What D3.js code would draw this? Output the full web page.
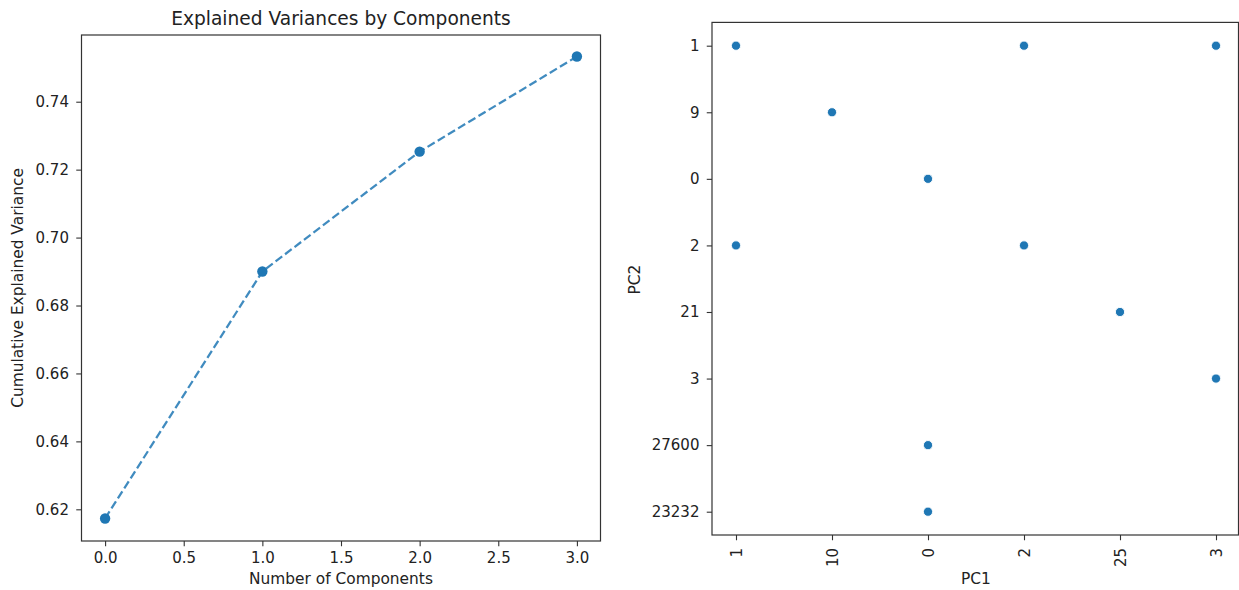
<!DOCTYPE html>
<html>
<head>
<meta charset="utf-8">
<script src="https://cdn.jsdelivr.net/npm/d3@7"></script>
<style>
  html, body { margin: 0; padding: 0; background: #fff; }
  svg { display: block; }
  text { font-family: "DejaVu Sans", sans-serif; fill: #222; }
</style>
</head>
<body>
<svg id="chart" width="1239" height="590"></svg>
<script>
// ---- Data: left panel ----
const components = [0, 1, 2, 3];
const cumVariance = [0.6173, 0.690, 0.7253, 0.7533];
const leftXTicks = [0.0, 0.5, 1.0, 1.5, 2.0, 2.5, 3.0];
const leftYTicks = [0.62, 0.64, 0.66, 0.68, 0.70, 0.72, 0.74];

// ---- Data: right panel (categorical scatter) ----
const pc1Categories = ["1", "10", "0", "2", "25", "3"];
const pc2Categories = ["1", "9", "0", "2", "21", "3", "27600", "23232"];
const pc1Values = ["1", "10", "0", "2", "1", "2", "25", "3", "3", "0", "0"];
const pc2Values = ["1", "9", "0", "2", "2", "1", "21", "1", "3", "27600", "23232"];

const svg = d3.select("#chart");
const blue = "#1f77b4";
const axisColor = "#333";
const tickFont = 15;
const labelFont = 15.4;
const tickLen = 5.25;

function styleAxis(g) {
  g.select(".domain").remove();
  g.selectAll(".tick line").attr("stroke", axisColor).attr("stroke-width", 1.1);
  g.selectAll(".tick text").attr("font-size", tickFont).attr("font-family", "DejaVu Sans").attr("fill", "#222");
}

// ================= LEFT PANEL =================
const L = { left: 81.5, right: 600.5, top: 35, bottom: 541 };
const xL = d3.scaleLinear().domain([-0.15, 3.15]).range([L.left, L.right]);
const yL = d3.scaleLinear().domain([0.61067, 0.75964]).range([L.bottom, L.top]);

const gL = svg.append("g");

const line = d3.line().x((d, i) => xL(components[i])).y(d => yL(d));
gL.append("path")
  .datum(cumVariance)
  .attr("d", line)
  .attr("fill", "none")
  .attr("stroke", blue)
  .attr("stroke-opacity", 0.85)
  .attr("stroke-width", 2.25)
  .attr("stroke-dasharray", "8.3,3.6");

gL.selectAll("circle.pt")
  .data(cumVariance)
  .join("circle")
  .attr("class", "pt")
  .attr("cx", (d, i) => xL(components[i]))
  .attr("cy", d => yL(d))
  .attr("r", 5.2)
  .attr("fill", blue);

const xAxisL = d3.axisBottom(xL).tickValues(leftXTicks).tickFormat(d3.format(".1f")).tickSize(tickLen).tickPadding(6);
const yAxisL = d3.axisLeft(yL).tickValues(leftYTicks).tickFormat(d3.format(".2f")).tickSize(tickLen).tickPadding(7.3);

const gxL = gL.append("g").attr("transform", `translate(0,${L.bottom})`).call(xAxisL);
const gyL = gL.append("g").attr("transform", `translate(${L.left},0)`).call(yAxisL);
styleAxis(gxL); styleAxis(gyL);

gL.append("rect")
  .attr("x", L.left).attr("y", L.top)
  .attr("width", L.right - L.left).attr("height", L.bottom - L.top)
  .attr("fill", "none").attr("stroke", axisColor).attr("stroke-width", 1.2);

gL.append("text")
  .attr("x", (L.left + L.right) / 2).attr("y", 25)
  .attr("text-anchor", "middle").attr("font-size", 18.6)
  .text("Explained Variances by Components");
gL.append("text")
  .attr("x", (L.left + L.right) / 2).attr("y", 584)
  .attr("text-anchor", "middle").attr("font-size", labelFont)
  .text("Number of Components");
gL.append("text")
  .attr("transform", `translate(22.5,${(L.top + L.bottom) / 2}) rotate(-90)`)
  .attr("text-anchor", "middle").attr("font-size", labelFont)
  .text("Cumulative Explained Variance");

// ================= RIGHT PANEL =================
const R = { left: 712, right: 1238.5, top: 22.4, bottom: 535 };
const xR = d3.scalePoint().domain(pc1Categories).range([R.left, 1240]).padding(0.25);
const yR = d3.scalePoint().domain(pc2Categories).range([R.top, R.bottom]).padding(0.35);

const gR = svg.append("g");

gR.selectAll("circle.sc")
  .data(pc1Values)
  .join("circle")
  .attr("class", "sc")
  .attr("cx", d => xR(d))
  .attr("cy", (d, i) => yR(pc2Values[i]))
  .attr("r", 4.6)
  .attr("fill", blue)
  .attr("stroke", "#fff")
  .attr("stroke-width", 0.9);

const xAxisR = d3.axisBottom(xR).tickSize(tickLen).tickPadding(6);
const yAxisR = d3.axisLeft(yR).tickSize(tickLen).tickPadding(7.3);
const gxR = gR.append("g").attr("transform", `translate(0,${R.bottom})`).call(xAxisR);
const gyR = gR.append("g").attr("transform", `translate(${R.left},0)`).call(yAxisR);
styleAxis(gxR); styleAxis(gyR);
gxR.selectAll(".tick text")
  .attr("transform", "rotate(-90)")
  .attr("text-anchor", "end")
  .attr("x", -13)
  .attr("y", 0)
  .attr("dy", "0.35em");

gR.append("rect")
  .attr("x", R.left).attr("y", R.top)
  .attr("width", R.right - R.left).attr("height", R.bottom - R.top)
  .attr("fill", "none").attr("stroke", axisColor).attr("stroke-width", 1.2);

gR.append("text")
  .attr("x", (R.left + 1240) / 2).attr("y", 584)
  .attr("text-anchor", "middle").attr("font-size", labelFont)
  .text("PC1");
gR.append("text")
  .attr("transform", `translate(639.5,${(R.top + R.bottom) / 2 + 1}) rotate(-90)`)
  .attr("text-anchor", "middle").attr("font-size", labelFont)
  .text("PC2");
</script>
</body>
</html>
